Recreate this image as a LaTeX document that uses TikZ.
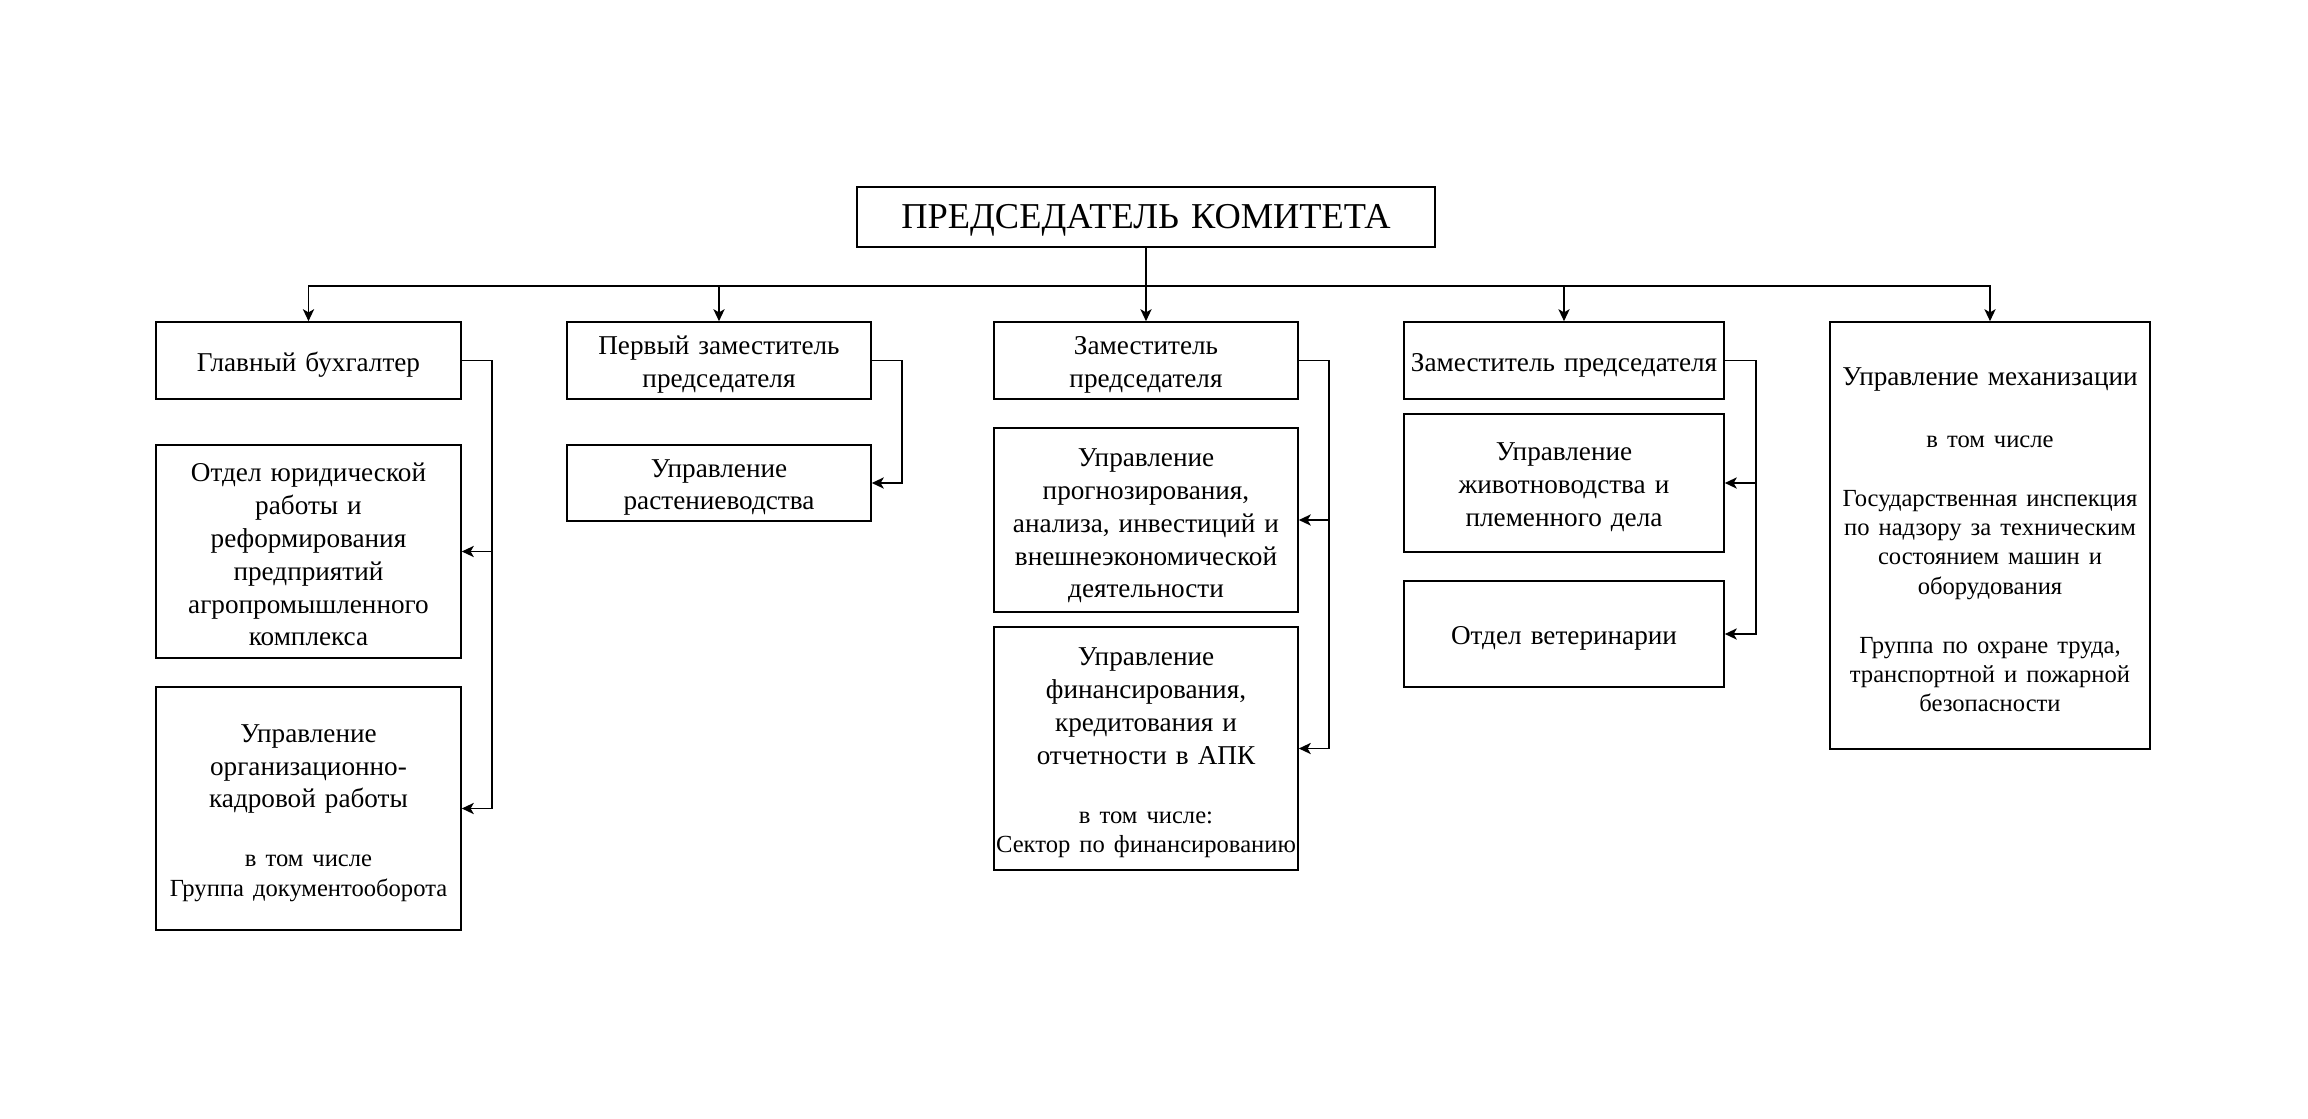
\documentclass[tikz,border=0pt]{standalone}
\usepackage{fontspec}
\setmainfont{Liberation Serif}
\usetikzlibrary{arrows.meta}
\newcommand\fsA{\fontsize{13.6}{16.4}\selectfont}
\newcommand\fsB{\fontsize{12.3}{14.7}\selectfont}
\newcommand\fsT{\fontsize{18.2}{21}\selectfont}
% box node #1 at #2, width #3, height #4, text #5
\newcommand\orgbox[6][2.2pt]{%
  \node[bxr={#4}{#5}] (#2) at #3 {};
  \node[bxt={#4}] (#2-t) at ([yshift=-#1]#2.center) {#6};}
\begin{document}
\begin{tikzpicture}[x=0.5pt,y=-0.5pt,
  bxr/.style 2 args={draw, line width=0.8pt, rectangle, inner sep=0pt,
    minimum width=#1, minimum height=#2},
  bxt/.style={inner sep=0pt, text width=#1, align=center, font=\fsA},
  arr/.style={line width=0.85pt, -{Stealth[length=6pt,width=5.6pt,inset=1.6pt]}},
  ln/.style={line width=0.85pt}]
\fill[white] (0,0) rectangle (2308,1119);
\useasboundingbox (0,0) rectangle (2308,1119);

\node[bxr={289pt}{30pt}] (top) at (1146,217) {};
\node[bxt={289pt}, font=\fsT] (top-t) at ([yshift=-1.6pt]top.center) {ПРЕДСЕДАТЕЛЬ КОМИТЕТА};

\orgbox{b1}{(308.5,360.5)}{152.5pt}{38.5pt}{Главный бухгалтер}
\orgbox[1.6pt]{b1a}{(308.5,551.5)}{152.5pt}{106.5pt}{Отдел юридической\\работы и\\реформирования\\предприятий\\агропромышленного\\комплекса}
\orgbox{b1b}{(308.5,808.5)}{152.5pt}{121.5pt}{{Управление\\организационно-\\кадровой работы\par}\vspace{14.7pt}{\fsB в том числе\\\mbox{Группа документооборота}\par}}

\orgbox{b2}{(719,360.5)}{152pt}{38.5pt}{Первый заместитель\\председателя}
\orgbox{b2a}{(719,483)}{152pt}{38pt}{Управление\\растениеводства}

\orgbox{b3}{(1146,360.5)}{152pt}{38.5pt}{Заместитель\\председателя}
\orgbox[3pt]{b3a}{(1146,520)}{152pt}{92pt}{Управление\\прогнозирования,\\анализа, инвестиций и\\внешнеэкономической\\деятельности}
\orgbox{b3b}{(1146,748.5)}{152pt}{121.5pt}{{Управление\\финансирования,\\кредитования и\\отчетности в АПК\par}\vspace{14.7pt}{\fsB в том числе:\\\mbox{Сектор по финансированию}\par}}

\orgbox{b4}{(1564,360.5)}{160pt}{38.5pt}{\mbox{Заместитель председателя}}
\orgbox{b4a}{(1564,483)}{160pt}{69pt}{Управление\\животноводства и\\племенного дела}
\orgbox{b4b}{(1564,634)}{160pt}{53pt}{Отдел ветеринарии}

\orgbox{b5}{(1990,535.5)}{160pt}{213.5pt}{{Управление механизации\par}\vspace{16.3pt}{\fsB в том числе\par}\vspace{14.7pt}{\fsB Государственная инспекция\\по надзору за техническим\\состоянием машин и\\оборудования\par}\vspace{14.7pt}{\fsB Группа по охране труда,\\транспортной и пожарной\\безопасности\par}}

\coordinate (bus) at (1146,286);
\draw[ln] (top.south) -- (bus);
\draw[arr] (bus) -| (b1.north);
\draw[arr] (bus) -| (b2.north);
\draw[arr] (bus) -- (b3.north);
\draw[arr] (bus) -| (b4.north);
\draw[arr] (bus) -| (b5.north);

\draw[arr] (b1.east) -- ++(30,0) |- (b1a.east);
\draw[arr] (b1.east) -- ++(30,0) |- (b1b.east);
\draw[arr] (b2.east) -- ++(30,0) |- (b2a.east);
\draw[arr] (b3.east) -- ++(30,0) |- (b3a.east);
\draw[arr] (b3.east) -- ++(30,0) |- (b3b.east);
\draw[arr] (b4.east) -- ++(31,0) |- (b4a.east);
\draw[arr] (b4.east) -- ++(31,0) |- (b4b.east);
\end{tikzpicture}
\end{document}
